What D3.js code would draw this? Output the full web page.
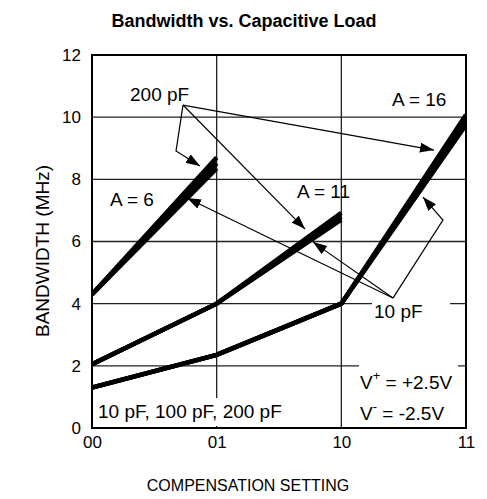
<!DOCTYPE html>
<html>
<head>
<meta charset="utf-8">
<script src="https://cdn.jsdelivr.net/npm/d3@7"></script>
<style>
  html, body { margin: 0; padding: 0; background: #fff; }
  svg { display: block; font-family: "Liberation Sans", Arial, sans-serif; }
</style>
</head>
<body>
<svg id="chart" width="487" height="499"></svg>
<script>
// ---- data ----
const categories = ["00", "01", "10", "11"];
const yTicks = [0, 2, 4, 6, 8, 10, 12];
const loads = ["10 pF", "100 pF", "200 pF"];
// gain A = 6 (settings 00, 01)
const a6_10pF  = [4.3, 8.35];
const a6_100pF = [4.3, 8.52];
const a6_200pF = [4.3, 8.7];
// gain A = 11 (settings 00, 01, 10)
const a11_10pF  = [2.05, 4.0, 6.7];
const a11_100pF = [2.05, 4.0, 6.8];
const a11_200pF = [2.05, 4.0, 6.92];
// gain A = 16 (settings 00, 01, 10, 11)
const a16_10pF  = [1.3, 2.35, 4.0, 9.75];
const a16_100pF = [1.3, 2.35, 4.0, 9.9];
const a16_200pF = [1.3, 2.35, 4.0, 10.08];

// annotation arrows: [xIndex, MHz] points, last point is arrow tip
const arrows200 = [
  [[0.73, 10.39], [2.743, 8.94]],
  [[0.73, 10.39], [1.709, 6.40]],
  [[0.73, 10.39], [0.674, 8.91], [0.866, 8.43]]
];
const arrows10 = [
  [[2.414, 4.18], [0.762, 7.40]],
  [[2.414, 4.18], [1.773, 5.98]],
  [[2.414, 4.18], [2.815, 6.69], [2.655, 7.43]]
];

// ---- layout ----
const svg = d3.select("#chart");
const L = 92, R = 466, T = 55, B = 428;

const x = d3.scalePoint().domain(categories).range([L, R]);
const xi = d3.scaleLinear().domain([0, categories.length - 1]).range([L, R]);
const y = d3.scaleLinear().domain([0, 12]).range([B, T]);

svg.append("defs").append("clipPath").attr("id", "plotclip")
  .append("rect").attr("x", L).attr("y", T).attr("width", R - L).attr("height", B - T);

const marker = svg.select("defs").append("marker")
  .attr("id", "arrowhead")
  .attr("markerUnits", "userSpaceOnUse")
  .attr("viewBox", "0 0 14 10")
  .attr("refX", 14).attr("refY", 5)
  .attr("markerWidth", 14).attr("markerHeight", 10)
  .attr("orient", "auto");
marker.append("path").attr("d", "M0,0 L14,5 L0,10 Z").attr("fill", "#000");

// title
svg.append("text")
  .attr("x", 244).attr("y", 27)
  .attr("text-anchor", "middle")
  .attr("font-weight", "bold")
  .attr("font-size", 18)
  .text("Bandwidth vs. Capacitive Load");

// grid
const grid = svg.append("g").attr("stroke", "#222").attr("stroke-width", 1.3);
grid.selectAll("line.h").data(yTicks.filter(d => d > 0 && d < 12)).enter()
  .append("line")
  .attr("x1", L).attr("x2", R)
  .attr("y1", d => y(d)).attr("y2", d => y(d));
grid.selectAll("line.v").data(categories.slice(1, -1)).enter()
  .append("line")
  .attr("y1", T).attr("y2", B)
  .attr("x1", d => x(d)).attr("x2", d => x(d));

// axes labels
const yAxis = d3.axisLeft(y).tickValues(yTicks).tickSize(0).tickPadding(11);
const gy = svg.append("g").attr("transform", `translate(${L},0)`).call(yAxis);
gy.select(".domain").remove();
gy.selectAll("text").attr("font-size", 17).attr("font-family", "Liberation Sans, Arial, sans-serif").attr("fill", "#000");

const xAxis = d3.axisBottom(x).tickSize(0).tickPadding(8);
const gx = svg.append("g").attr("transform", `translate(0,${B})`).call(xAxis);
gx.select(".domain").remove();
gx.selectAll("text").attr("font-size", 17).attr("font-family", "Liberation Sans, Arial, sans-serif").attr("fill", "#000");

svg.append("text")
  .attr("x", 248).attr("y", 491)
  .attr("text-anchor", "middle").attr("font-size", 16)
  .text("COMPENSATION SETTING");
svg.append("text")
  .attr("transform", `translate(49,251) rotate(-90)`)
  .attr("text-anchor", "middle").attr("font-size", 19)
  .text("BANDWIDTH (MHz)");

// label boxes that break gridlines
function labelBox(x0, y0, w, h) {
  svg.append("rect").attr("x", x0).attr("y", y0).attr("width", w).attr("height", h).attr("fill", "#fff");
}
labelBox(372, y(4) - 4, 78, 20);
labelBox(359, y(2) - 4, 99, B - y(2) + 2);
labelBox(95, 398, 196, 28);

// curves
const line = d3.line().x((d, i) => x(categories[i])).y(d => y(d));
const series = [a6_10pF, a6_100pF, a6_200pF, a11_10pF, a11_100pF, a11_200pF, a16_10pF, a16_100pF, a16_200pF];
svg.append("g").attr("clip-path", "url(#plotclip)")
  .selectAll("path").data(series).enter().append("path")
  .attr("d", line)
  .attr("fill", "none").attr("stroke", "#000")
  .attr("stroke-width", 4.5).attr("stroke-linejoin", "miter");

// annotation arrows
const aline = d3.line().x(d => xi(d[0])).y(d => y(d[1]));
svg.append("g").selectAll("path").data(arrows200.concat(arrows10)).enter().append("path")
  .attr("d", aline)
  .attr("fill", "none").attr("stroke", "#000").attr("stroke-width", 1.2)
  .attr("marker-end", "url(#arrowhead)");

// annotation text
const ann = svg.append("g").attr("font-size", 19).attr("fill", "#000");
ann.append("text").attr("x", 130).attr("y", 101).text("200 pF");
ann.append("text").attr("x", 392).attr("y", 106).text("A = 16");
ann.append("text").attr("x", 110).attr("y", 206).text("A = 6");
ann.append("text").attr("x", 297).attr("y", 198).text("A = 11");
ann.append("text").attr("x", 374).attr("y", 318).text("10 pF");
ann.append("text").attr("x", 98).attr("y", 418).text(loads.join(", "));
const vp = ann.append("text").attr("x", 360).attr("y", 389);
vp.append("tspan").text("V");
vp.append("tspan").attr("dy", -9).attr("font-size", 13).text("+");
vp.append("tspan").attr("dy", 9).text(" = +2.5V");
const vm = ann.append("text").attr("x", 360).attr("y", 420);
vm.append("tspan").text("V");
vm.append("tspan").attr("dy", -9).attr("font-size", 13).text("-");
vm.append("tspan").attr("dy", 9).text(" = -2.5V");

// plot border
svg.append("rect").attr("x", L).attr("y", T).attr("width", R - L).attr("height", B - T)
  .attr("fill", "none").attr("stroke", "#000").attr("stroke-width", 2);
</script>
</body>
</html>
